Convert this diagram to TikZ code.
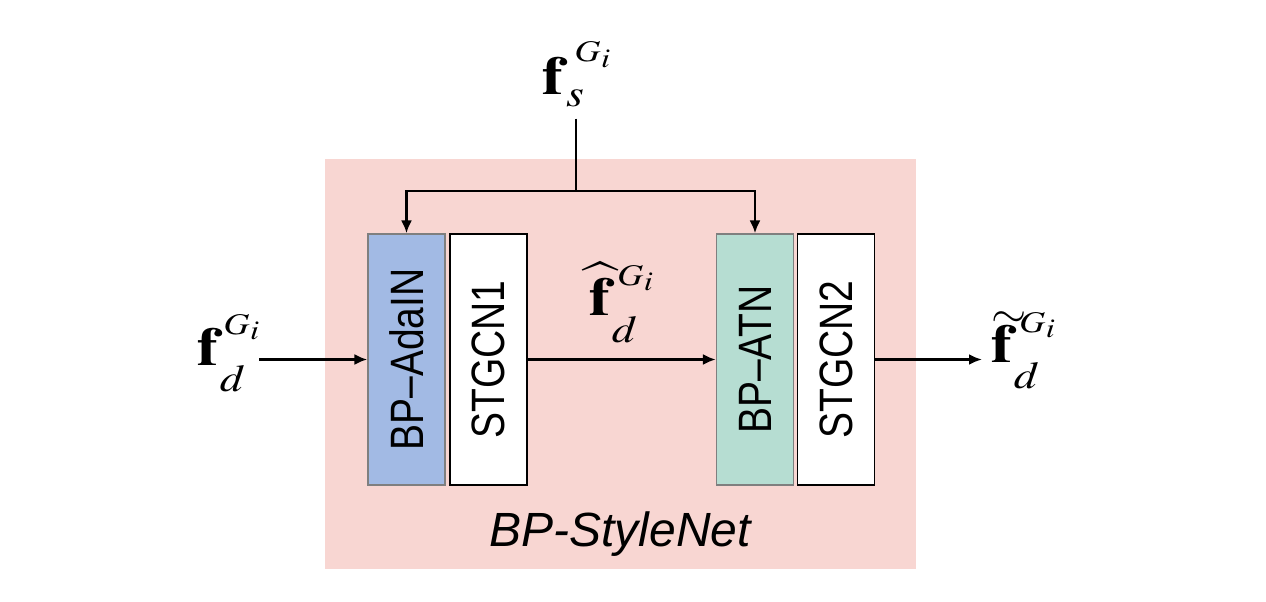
\documentclass[tikz,border=0pt]{standalone}
\usepackage{mathptmx}
\usepackage[no-math]{fontspec}
\setmainfont{Liberation Sans}
\usetikzlibrary{arrows.meta}
\definecolor{pinkC}{HTML}{F8D6D2}
\definecolor{blueC}{HTML}{A2BAE4}
\definecolor{greenC}{HTML}{B6DDD2}
\definecolor{edgeC}{HTML}{7F7F7F}
\tikzset{
  blk/.style={minimum width=77pt, minimum height=251pt, inner sep=0pt, line width=1.3pt,
    font=\fontsize{39}{39}\selectfont},
  whiteblk/.style={blk, fill=white, draw=black},
  lbl/.style={inner sep=0pt, anchor=base west, font=\fontsize{54}{54}\selectfont},
  conn/.style={line width=2.4pt, -{Latex[length=13pt,width=11pt]}},
  plain/.style={line width=2.4pt}
}
\newcommand{\rtext}[1]{\rotatebox{90}{\scalebox{1}[1.2]{#1}}}
% #1 base, #2 sub, #3 sub lowering, #4 sub kern, #5 sup kern, #6 sup raise
\newcommand{\flab}[6]{\scalebox{1.2}[1]{#1\rlap{\kern#4\raisebox{-#3}{\fontsize{38}{38}\selectfont$#2$}}\kern#5\raisebox{#6}{\fontsize{30}{30}\selectfont$G$\kern0.5pt\raisebox{-5pt}{\fontsize{27}{27}\selectfont$i$}}}}
\newcommand{\tildef}{\rlap{\kern0pt\raisebox{35pt}{\scalebox{0.7}[0.8]{$\sim$}}}$\mathbf{f}$}
\begin{document}
\begin{tikzpicture}[x=1pt,y=-1pt]
\useasboundingbox (0,0) rectangle (1266,602);
\fill[white] (0,0) rectangle (1266,602);
\node[fill=pinkC, minimum width=591pt, minimum height=410pt, inner sep=0pt] (net) at (620.5,364) {};
\node[font=\fontsize{48}{48}\selectfont\itshape] (netlbl) at (620,534) {BP-StyleNet};
\node[blk, fill=blueC, draw=edgeC] (adain) at (406.5,359.5) {\rtext{BP--AdaIN}};
\node[whiteblk] (stg1) at (488.5,359.5) {\rtext{STGCN1}};
\node[blk, fill=greenC, draw=edgeC] (atn) at (755,359.5) {\rtext{BP--ATN}};
\node[whiteblk] (stg2) at (836,359.5) {\rtext{STGCN2}};
\node[lbl] (fs) at (542,95) {\flab{$\mathbf{f}$}{s}{12pt}{2pt}{9pt}{33pt}};
\node[lbl] (fdl) at (197,365) {\flab{$\mathbf{f}$}{d}{26pt}{1pt}{4pt}{31pt}};
\node[lbl] (fdh) at (589,315) {\flab{$\widehat{\mathbf{f}}$}{d}{27pt}{1pt}{5.5pt}{30pt}};
\node[lbl] (fdt) at (991,362) {\flab{\tildef}{d}{26pt}{1pt}{5.5pt}{30pt}};
\coordinate (junc) at (576,191);
\draw[plain, shorten <=11pt] (junc |- fs.south) -- (junc);
\draw[conn] (junc) -| (adain.north);
\draw[conn] (junc) -| (atn.north);
\draw[conn] (fdl.east |- adain) -- (adain.west);
\draw[conn] (stg1.east) -- (atn.west);
\draw[conn, shorten >=9pt] (stg2.east) -- (stg2.east -| fdt.west);
\end{tikzpicture}
\end{document}
